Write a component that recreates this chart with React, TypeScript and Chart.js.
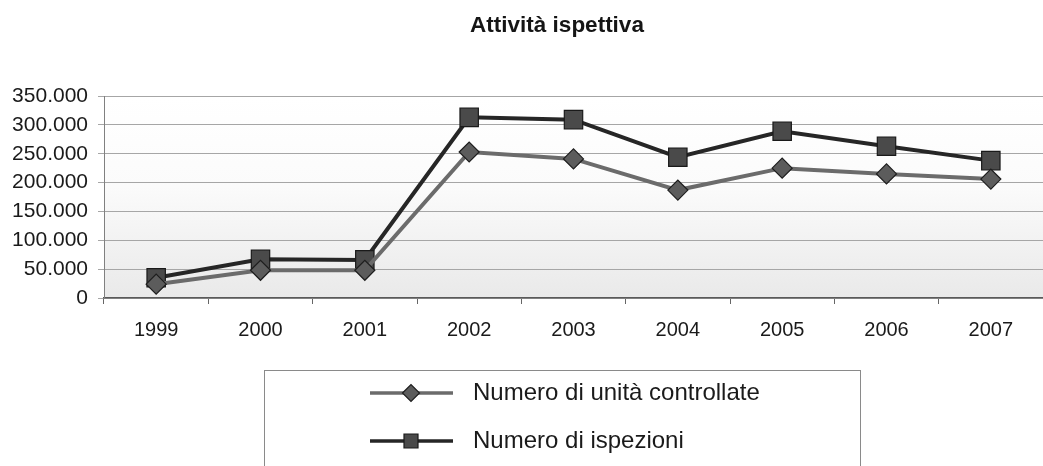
import React, { useEffect, useRef } from "react";
import { Chart, registerables } from "chart.js";

Chart.register(...registerables);

const titleText = "Attività ispettiva";
const years = ["1999", "2000", "2001", "2002", "2003", "2004", "2005", "2006", "2007"];
const unitaControllate = [24000, 48000, 48000, 253000, 241000, 187000, 225000, 215000, 206000];
const ispezioni = [35000, 67000, 66000, 313000, 309000, 244000, 289000, 263000, 238000];
const seriesLabels = ["Numero di unità controllate", "Numero di ispezioni"];
const yMin = 0;
const yMax = 350000;
const yStep = 50000;

const FONT = "'Liberation Sans', Arial, Helvetica, sans-serif";

function fmt(v: number): string {
  return String(Math.round(v)).replace(/\B(?=(\d{3})+(?!\d))/g, ".");
}

const decorPlugin = {
  id: "decor",
  beforeDraw(chart: any) {
    const { ctx, chartArea } = chart;
    const { left, right, top, bottom } = chartArea;
    ctx.save();
    const g = ctx.createLinearGradient(0, top, 0, bottom);
    g.addColorStop(0, "#ffffff");
    g.addColorStop(0.45, "#fbfbfb");
    g.addColorStop(1, "#e9e9e9");
    ctx.fillStyle = g;
    ctx.fillRect(left, top, right - left, bottom - top);
    ctx.restore();
  },
  afterDraw(chart: any) {
    const { ctx } = chart;
    ctx.save();
    // title
    ctx.fillStyle = "#151515";
    ctx.font = `bold 22.5px ${FONT}`;
    ctx.textAlign = "center";
    ctx.textBaseline = "middle";
    ctx.fillText(titleText, 557, 26);

    // legend box
    ctx.strokeStyle = "#8a8a8a";
    ctx.lineWidth = 1;
    ctx.strokeRect(264.5, 370.5, 596, 120);

    const rows = [393, 441];
    chart.data.datasets.forEach((ds: any, i: number) => {
      const y = rows[i];
      ctx.strokeStyle = ds.borderColor;
      ctx.lineWidth = 3.5;
      ctx.beginPath();
      ctx.moveTo(370, y);
      ctx.lineTo(453, y);
      ctx.stroke();
      ctx.fillStyle = ds.pointBackgroundColor;
      ctx.strokeStyle = ds.pointBorderColor;
      ctx.lineWidth = 1.2;
      ctx.beginPath();
      if (ds.pointStyle === "rect") {
        ctx.rect(411 - 7, y - 7, 14, 14);
      } else {
        ctx.moveTo(411 - 8.5, y);
        ctx.lineTo(411, y - 8.5);
        ctx.lineTo(411 + 8.5, y);
        ctx.lineTo(411, y + 8.5);
        ctx.closePath();
      }
      ctx.fill();
      ctx.stroke();
      ctx.fillStyle = "#1a1a1a";
      ctx.font = `24px ${FONT}`;
      ctx.textAlign = "left";
      ctx.textBaseline = "middle";
      ctx.fillText(ds.label, 473, y);
    });
    ctx.restore();
  },
};

export default function App() {
  const ref = useRef<HTMLCanvasElement | null>(null);

  useEffect(() => {
    if (!ref.current) return;
    const chart = new Chart(ref.current, {
      type: "line",
      data: {
        labels: years,
        datasets: [
          {
            label: seriesLabels[0],
            data: unitaControllate,
            borderColor: "#6b6b6b",
            borderWidth: 4,
            pointStyle: "rectRot",
            pointRadius: 10,
            pointHoverRadius: 10,
            pointBackgroundColor: "#5c5c5c",
            pointBorderColor: "#1e1e1e",
            pointBorderWidth: 1.2,
            tension: 0,
          } as any,
          {
            label: seriesLabels[1],
            data: ispezioni,
            borderColor: "#262626",
            borderWidth: 4,
            pointStyle: "rect",
            pointRadius: 13,
            pointHoverRadius: 13,
            pointBackgroundColor: "#4a4a4a",
            pointBorderColor: "#1a1a1a",
            pointBorderWidth: 1.2,
            tension: 0,
          } as any,
        ],
      },
      options: {
        responsive: false,
        animation: false,
        devicePixelRatio: 1,
        layout: { autoPadding: false, padding: { top: 96, bottom: 110, left: 0, right: 0 } },
        plugins: {
          legend: { display: false },
          title: { display: false },
          tooltip: { enabled: false },
        },
        scales: {
          x: {
            offset: true,
            afterFit(scale: any) {
              scale.paddingLeft = 0;
              scale.paddingRight = 0;
            },
            grid: {
              drawOnChartArea: false,
              offset: true,
              tickLength: 6,
              color: "#666666",
            },
            border: { display: true, color: "#5a5a5a", width: 1.5 },
            ticks: {
              padding: 14,
              color: "#1a1a1a",
              font: { family: FONT, size: 20 },
            },
          },
          y: {
            min: yMin,
            max: yMax,
            afterFit(scale: any) {
              scale.width = 104;
            },
            grid: { color: "#a6a6a6", lineWidth: 1, tickLength: 6 },
            border: { display: true, color: "#808080", width: 1 },
            ticks: {
              stepSize: yStep,
              autoSkip: false,
              padding: 10,
              color: "#1a1a1a",
              font: { family: FONT, size: 21, lineHeight: 1 },
              callback: (v: any) => fmt(Number(v)),
            },
          },
        },
      },
      plugins: [decorPlugin],
    });
    return () => chart.destroy();
  }, []);

  return (
    <div style={{ position: "absolute", left: 0, top: 0, width: 1043, height: 466, background: "#fff" }}>
      <canvas ref={ref} width={1043} height={466} />
    </div>
  );
}
